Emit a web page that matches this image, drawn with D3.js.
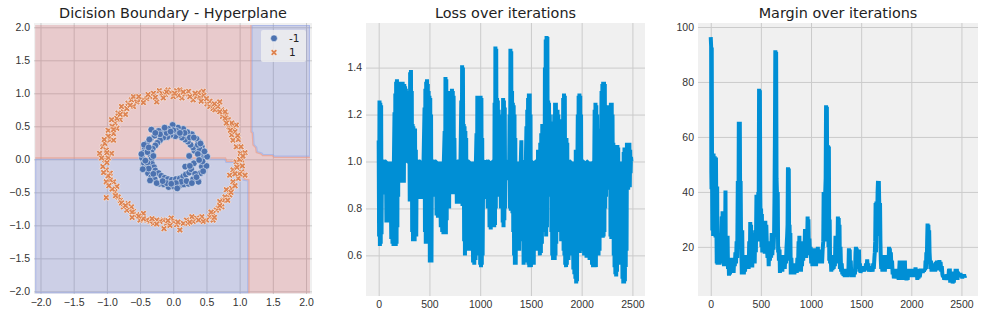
<!DOCTYPE html>
<html>
<head>
<meta charset="utf-8">
<script src="https://cdn.jsdelivr.net/npm/d3@7"></script>
<style>
    body { margin: 0; background: #fff; }
    svg { display: block; font-family: "DejaVu Sans", sans-serif; }
    .tick text { fill: #333; font-size: 10.5px; }
    .tick line { stroke: #cbcbcb; stroke-width: 1; }
    .title { font-size: 14.4px; fill: #222; text-anchor: middle; }
    .legend-label { font-size: 10.5px; fill: #222; }
</style>
</head>
<body>
<svg id="chart" width="982" height="316"></svg>
<script>
// ---- data ----
const titles = ['Dicision Boundary - Hyperplane', 'Loss over iterations', 'Margin over iterations'];
const legendLabels = ['-1', '1'];

const boundaryTicks = [-2.0, -1.5, -1.0, -0.5, 0.0, 0.5, 1.0, 1.5, 2.0];
const iterTicks = [0, 500, 1000, 1500, 2000, 2500];
const lossTicks = [0.6, 0.8, 1.0, 1.2, 1.4];
const marginTicks = [20, 40, 60, 80, 100];

// area covered by the predicted regions (data coords: x0, x1, y0, y1)
const contourExtent = [-2.08, 2.06, -2.03, 2.035];

// regions predicted as -1 (everything else in the extent is predicted 1)
const blueRegions = [
    [[-2.08, 0.01], [0.78, 0.01], [0.80, -0.04], [1.055, -0.04], [1.06, -0.31], [1.13, -0.32], [1.13, -2.03], [-2.08, -2.03]],
    [[1.18, 2.035], [2.06, 2.035], [2.06, 0.04], [1.52, 0.04], [1.5, 0.065], [1.35, 0.065], [1.33, 0.09], [1.26, 0.11],
     [1.25, 0.18], [1.21, 0.22], [1.2, 0.4], [1.18, 0.42]]
];

// class -1 points (inner ring)
const classNeg = [
    [0.46, 0.03], [0.44, 0.10], [0.43, 0.19], [0.38, 0.27], [0.35, 0.31], [0.28, 0.38], [0.21, 0.41], [0.15, 0.46],
    [0.07, 0.48], [-0.01, 0.52], [-0.07, 0.46], [-0.15, 0.44], [-0.22, 0.43], [-0.33, 0.45], [-0.34, 0.31], [-0.40, 0.24],
    [-0.43, 0.17], [-0.45, 0.10], [-0.47, 0.02], [-0.44, -0.06], [-0.41, -0.13], [-0.38, -0.21], [-0.33, -0.27], [-0.28, -0.30],
    [-0.21, -0.37], [-0.14, -0.38], [-0.07, -0.42], [0.01, -0.41], [0.09, -0.40], [0.16, -0.38], [0.23, -0.37], [0.30, -0.30],
    [0.38, -0.34], [0.41, -0.21], [0.43, -0.11], [0.50, -0.10], [0.51, 0.04], [0.44, -0.03],
    [0.24, 0.05], [0.32, 0.13], [0.30, 0.18], [0.26, 0.22], [0.22, 0.27], [0.18, 0.30], [0.13, 0.33], [0.09, 0.37],
    [0.03, 0.35], [-0.04, 0.37], [-0.09, 0.34], [-0.15, 0.33], [-0.20, 0.29], [-0.24, 0.25], [-0.27, 0.21], [-0.31, 0.16],
    [-0.33, 0.11], [-0.34, 0.06], [-0.33, 0.00], [-0.32, -0.07], [-0.29, -0.12], [-0.27, -0.17], [-0.22, -0.21], [-0.18, -0.25],
    [-0.13, -0.28], [-0.08, -0.30], [-0.02, -0.31], [0.04, -0.30], [0.10, -0.29], [0.15, -0.26], [0.19, -0.23], [0.24, -0.20],
    [0.27, -0.15], [0.18, -0.11], [0.31, -0.06], [0.25, -0.10],
    [0.40, 0.15], [0.37, 0.22], [0.05, 0.43], [-0.10, 0.40], [-0.28, 0.36], [-0.39, 0.11], [-0.39, -0.05], [-0.30, -0.22],
    [-0.10, -0.36], [0.12, -0.34], [0.33, -0.22], [0.37, 0.08], [-0.20, 0.38], [0.25, 0.33], [-0.37, -0.14], [0.04, -0.36],
    [0.47, 0.12], [0.41, 0.24], [0.31, 0.33], [0.17, 0.40], [0.00, 0.44], [-0.13, 0.48], [-0.27, 0.40], [-0.36, 0.30],
    [-0.44, 0.22], [-0.48, 0.08], [-0.42, -0.02], [-0.46, -0.15], [-0.35, -0.32], [-0.25, -0.36], [-0.03, -0.37], [0.06, -0.44],
    [0.20, -0.33], [0.28, -0.36], [0.35, -0.27], [0.45, -0.18], [0.39, -0.01], [-0.16, -0.33], [0.10, 0.40], [-0.04, 0.42],
    [-0.30, 0.05], [-0.37, 0.18]
];

// class 1 points (outer ring)
const classPos = [
    [-0.21, 1.04], [-0.17, 1.00], [-0.08, 1.05], [-0.04, 1.01], [0.00, 0.95], [0.05, 1.04], [0.10, 1.05], [0.13, 0.93],
    [0.18, 0.99], [0.23, 1.03], [0.29, 0.97], [0.30, 0.90], [0.35, 0.95], [0.40, 0.94], [0.45, 1.03], [0.46, 0.97],
    [0.51, 0.84], [0.55, 0.80], [0.60, 0.77], [0.63, 0.75], [0.70, 0.87], [0.73, 0.75], [0.74, 0.65], [0.80, 0.67],
    [0.83, 0.60], [0.84, 0.49], [0.90, 0.49], [0.88, 0.37], [0.95, 0.52], [0.90, 0.29], [0.95, 0.19], [1.02, 0.19],
    [1.01, 0.09], [1.08, 0.10], [1.03, -0.01], [0.95, -0.04], [0.99, -0.09], [0.90, -0.16], [1.03, -0.19], [1.08, -0.24],
    [0.98, -0.29], [0.85, -0.24], [0.90, -0.34], [0.88, -0.44], [0.80, -0.46], [0.85, -0.54], [0.78, -0.57], [0.75, -0.62],
    [0.70, -0.64], [0.73, -0.72], [0.65, -0.77], [0.60, -0.82], [0.55, -0.87], [0.60, -0.92], [0.50, -0.92], [0.43, -0.87],
    [0.35, -0.89], [0.30, -0.94], [0.28, -0.87], [0.20, -0.92], [0.15, -0.97], [0.10, -1.07], [0.05, -0.99], [0.00, -0.94],
    [-0.03, -0.89], [-0.10, -0.97], [-0.15, -0.92], [-0.14, -1.05], [-0.20, -0.94], [-0.25, -0.92], [-0.30, -0.97], [-0.35, -0.94],
    [-0.40, -0.92], [-0.45, -0.82], [-0.50, -0.92], [-0.55, -0.84], [-0.60, -0.79], [-0.63, -0.72], [-0.68, -0.67], [-0.70, -0.77],
    [-0.75, -0.72], [-0.80, -0.62], [-0.83, -0.57], [-0.88, -0.49], [-0.85, -0.41], [-0.90, -0.34], [-0.95, -0.31], [-1.01, -0.34],
    [-0.95, -0.21], [-1.01, -0.16], [-1.06, -0.11], [-1.03, -0.01], [-0.98, 0.02], [-1.11, 0.09], [-1.06, 0.19], [-1.01, 0.14],
    [-1.03, 0.24], [-0.96, 0.29], [-0.95, 0.34], [-0.90, 0.39], [-0.98, 0.44], [-0.85, 0.47], [-0.88, 0.55], [-0.80, 0.60],
    [-0.85, 0.62], [-0.83, 0.70], [-0.75, 0.72], [-0.78, 0.80], [-0.70, 0.77], [-0.68, 0.85], [-0.63, 0.90], [-0.60, 0.95],
    [-0.55, 0.87], [-0.50, 0.90], [-0.45, 0.90], [-0.40, 0.92], [-0.35, 0.95], [-0.30, 1.00], [-0.25, 0.87], [-0.90, 0.29],
    [-0.93, 0.09], [-1.01, -0.58],
    [-0.12, 0.98], [0.08, 0.97], [0.25, 0.95], [0.38, 1.01], [0.55, 0.88], [0.67, 0.80], [0.78, 0.72], [0.88, 0.55],
    [0.93, 0.42], [0.98, 0.30], [1.00, 0.00], [0.96, -0.12], [0.93, -0.40], [0.82, -0.62], [0.68, -0.74], [0.45, -0.94],
    [0.22, -0.97], [-0.05, -1.00], [-0.25, -0.98], [-0.45, -0.90], [-0.62, -0.80], [-0.78, -0.66], [-0.92, -0.45], [-0.98, -0.25],
    [-1.00, -0.05], [-1.00, 0.10], [-0.98, 0.35], [-0.92, 0.50], [-0.72, 0.68], [-0.60, 0.80], [-0.45, 0.86], [-0.15, 0.93],
    [-0.10, 1.02], [0.02, 1.00], [0.15, 1.02], [0.33, 1.00], [0.50, 0.92], [0.62, 0.84], [0.70, 0.72], [0.78, 0.62],
    [0.86, 0.44], [0.97, 0.36], [1.05, 0.05], [1.00, -0.22], [0.93, -0.22], [0.87, -0.50], [0.70, -0.70], [0.57, -0.80],
    [0.38, -0.92], [0.25, -0.95], [0.07, -0.95], [-0.08, -0.93], [-0.32, -0.90], [-0.52, -0.86], [-0.72, -0.70], [-0.87, -0.55],
    [-0.97, -0.40], [-1.05, -0.20], [-1.08, 0.02], [-1.04, 0.30], [-0.93, 0.60], [-0.80, 0.68], [-0.65, 0.82], [-0.52, 0.95],
    [-0.38, 0.98], [-0.27, 0.94], [0.42, 0.88], [0.80, 0.55], [1.04, -0.10], [0.62, -0.88], [-0.62, -0.88], [-0.90, 0.45]
];

// loss per iteration [iteration, loss]
const lossSeries = [
    [0, 1.09], [4, 0.68], [8, 1.26], [12, 0.64], [16, 1.25], [20, 0.65], [24, 1.24], [28, 0.69], [32, 1.0],
    [50, 1.0], [54, 0.86], [58, 1.0], [72, 1.0], [76, 0.74], [80, 1.0], [88, 0.75], [92, 1.0], [100, 0.86], [104, 1.0],
    [112, 0.74], [116, 1.0], [124, 0.67], [128, 1.0], [136, 0.65], [140, 1.0], [146, 0.64], [150, 1.0],
    [156, 1.21], [160, 0.66], [164, 1.29], [168, 0.64], [172, 1.34], [176, 0.65], [180, 1.35], [184, 0.72], [188, 1.34],
    [192, 0.85], [196, 1.33], [200, 1.0], [204, 1.34], [208, 1.0], [212, 1.34], [216, 1.0], [220, 1.33],
    [224, 0.92], [228, 1.34], [232, 0.91], [236, 1.34], [240, 0.92], [244, 1.30], [248, 0.91], [252, 1.33], [256, 1.0],
    [260, 1.32], [264, 1.0], [268, 1.31], [272, 1.0], [276, 1.3], [280, 1.0], [296, 1.0],
    [302, 1.25], [306, 0.83], [310, 1.38], [314, 0.84], [318, 1.39], [322, 0.86], [326, 1.30],
    [330, 0.70], [334, 1.16], [338, 0.66], [342, 1.15], [346, 0.67], [350, 1.12], [354, 0.66], [358, 1.14], [362, 0.70],
    [366, 1.05], [370, 0.68], [374, 1.0],
    [390, 1.0], [394, 0.84], [398, 1.0], [410, 1.0], [414, 0.84], [418, 1.0], [426, 0.85], [430, 1.0], [438, 0.84], [442, 1.0],
    [452, 1.23], [456, 0.70], [460, 1.31], [464, 0.65], [468, 1.34], [472, 0.66], [476, 1.35], [480, 0.68], [484, 1.33],
    [488, 0.66], [492, 1.30], [496, 0.72],
    [500, 1.28], [504, 0.57], [508, 1.27], [512, 0.58], [516, 1.2], [520, 0.57], [524, 1.0],
    [540, 1.0], [548, 1.0], [552, 0.85], [556, 1.0], [566, 1.0], [570, 0.77], [574, 1.0], [584, 0.76], [588, 1.0],
    [598, 0.76], [602, 1.0], [612, 0.72], [616, 1.0], [626, 0.70], [630, 1.0], [638, 0.69], [642, 1.0],
    [650, 1.13], [654, 0.70], [658, 1.36], [662, 0.69], [666, 1.35], [670, 0.75],
    [674, 1.29], [678, 0.80], [682, 1.28], [686, 0.82], [690, 1.25], [694, 0.80],
    [698, 1.30], [702, 0.90], [706, 1.29], [710, 1.0], [714, 1.29], [718, 1.0], [722, 1.31], [726, 0.88], [730, 1.30],
    [734, 0.86], [738, 1.28], [742, 0.87], [746, 1.10], [750, 0.90], [754, 1.0],
    [766, 1.0], [770, 0.82], [774, 1.0], [786, 1.0], [790, 0.83], [794, 1.0], [802, 0.82], [806, 1.0],
    [814, 1.26], [818, 0.82], [822, 1.41], [826, 0.81], [830, 1.40], [834, 0.85],
    [838, 1.16], [842, 0.66], [846, 1.15], [850, 0.60], [854, 1.13], [858, 0.62], [862, 1.1], [866, 0.65], [870, 1.0],
    [874, 0.70], [878, 1.0],
    [890, 1.0], [894, 0.62], [898, 1.0], [906, 0.70], [910, 1.0], [918, 0.64], [922, 1.0], [930, 0.57], [934, 1.0],
    [942, 0.56], [946, 1.0], [954, 0.58], [958, 1.0],
    [964, 1.12], [968, 0.62], [972, 1.28], [976, 0.60], [980, 1.27], [984, 0.65], [988, 1.28], [992, 0.72],
    [996, 1.27], [1000, 0.56], [1004, 1.28], [1008, 0.55], [1012, 1.27], [1016, 0.56], [1020, 1.1], [1024, 0.6],
    [1030, 1.0], [1040, 1.0], [1044, 0.85], [1048, 1.0], [1056, 0.84], [1060, 1.0],
    [1070, 1.0], [1074, 0.80], [1078, 1.0], [1088, 1.0], [1092, 0.72], [1096, 1.0], [1104, 0.71], [1108, 1.0], [1116, 0.72],
    [1120, 1.0],
    [1134, 1.0], [1138, 0.72], [1142, 1.25], [1146, 0.73], [1150, 1.49], [1154, 0.80], [1158, 1.48], [1162, 0.85],
    [1166, 1.27], [1170, 0.86], [1174, 1.26], [1178, 0.88], [1182, 1.22], [1186, 0.85], [1190, 1.0],
    [1200, 1.0], [1204, 0.80], [1208, 1.0], [1214, 1.0],
    [1218, 1.20], [1222, 0.74], [1226, 1.27], [1230, 0.72], [1234, 1.26], [1238, 0.75], [1242, 1.23], [1246, 0.8], [1250, 1.0],
    [1262, 1.0], [1266, 0.92], [1270, 1.0], [1286, 1.0],
    [1290, 1.2], [1294, 0.80], [1298, 1.48], [1302, 0.79], [1306, 1.47], [1310, 0.82], [1314, 1.3],
    [1318, 0.78], [1322, 1.25], [1326, 0.70], [1330, 1.24], [1334, 0.60], [1338, 1.2], [1342, 0.56], [1346, 1.1],
    [1350, 0.56], [1354, 1.0],
    [1360, 0.62], [1364, 1.0], [1372, 0.64], [1376, 1.0], [1384, 0.62], [1388, 1.0], [1396, 0.66], [1400, 1.0],
    [1406, 1.09], [1410, 0.7], [1414, 1.0],
    [1424, 1.0], [1428, 0.56], [1432, 1.0], [1440, 0.57], [1444, 1.0], [1450, 1.0],
    [1456, 1.15], [1460, 0.70], [1464, 1.22], [1468, 0.62], [1472, 1.27], [1476, 0.56], [1480, 1.29], [1484, 0.55],
    [1488, 1.29], [1492, 0.56], [1496, 1.2], [1500, 0.55], [1504, 1.0],
    [1512, 1.0], [1516, 0.57], [1520, 1.0], [1528, 0.56], [1532, 1.0], [1540, 0.62], [1544, 1.0], [1550, 1.0],
    [1556, 0.75], [1560, 1.0], [1566, 0.72], [1570, 1.05], [1576, 0.62], [1580, 1.0], [1588, 0.60], [1592, 1.08],
    [1598, 0.61], [1602, 1.12], [1608, 0.65], [1612, 1.16], [1618, 0.70], [1622, 1.0],
    [1630, 1.0], [1634, 0.75], [1638, 1.40], [1642, 0.70], [1646, 1.52], [1650, 0.68], [1654, 1.535], [1658, 0.72],
    [1662, 1.53], [1666, 0.85],
    [1670, 1.26], [1674, 0.88], [1678, 1.25], [1682, 0.9], [1686, 1.2], [1690, 0.88], [1694, 1.0], [1698, 1.17],
    [1702, 0.70], [1706, 1.17], [1710, 0.60], [1714, 1.15], [1718, 0.58], [1722, 1.1], [1726, 0.58], [1730, 1.2],
    [1734, 0.58], [1738, 1.25], [1742, 0.60], [1746, 1.25], [1750, 0.65], [1754, 1.2], [1758, 0.70], [1762, 1.22],
    [1766, 0.75], [1770, 1.2], [1774, 0.78], [1778, 1.18], [1782, 0.80],
    [1786, 1.17], [1790, 0.70], [1794, 1.18], [1798, 0.66], [1802, 1.12], [1806, 0.68], [1810, 1.1], [1814, 0.72],
    [1818, 1.27], [1822, 0.62], [1826, 1.29], [1830, 0.60], [1834, 1.28], [1838, 0.56], [1842, 1.1],
    [1846, 0.55], [1850, 1.1], [1854, 0.56], [1858, 1.08], [1862, 0.6], [1866, 1.0], [1870, 0.58], [1874, 1.0], [1878, 0.62],
    [1884, 1.0], [1890, 1.0], [1894, 0.62], [1898, 1.0], [1906, 0.60], [1910, 1.0], [1918, 0.54], [1922, 1.0],
    [1928, 0.52], [1932, 1.0],
    [1938, 0.50], [1942, 1.05], [1946, 0.48], [1950, 1.04], [1954, 0.49], [1958, 1.0],
    [1962, 1.2], [1966, 0.62], [1970, 1.28], [1974, 0.61], [1978, 1.29], [1982, 0.61], [1986, 1.28], [1990, 0.62],
    [1994, 1.2], [1998, 0.65], [2002, 1.0], [2006, 0.62], [2010, 1.0],
    [2020, 1.0], [2024, 0.60], [2028, 1.0], [2036, 0.61], [2040, 1.0], [2048, 0.59], [2052, 1.0], [2058, 1.0],
    [2066, 0.60], [2070, 1.0], [2078, 0.58], [2082, 1.0], [2090, 0.58], [2094, 1.0], [2102, 0.56], [2106, 1.0],
    [2112, 0.55], [2116, 1.0],
    [2124, 1.0], [2128, 1.22], [2132, 0.56], [2136, 1.25], [2140, 0.55], [2144, 1.24], [2148, 0.6], [2152, 1.2],
    [2156, 0.62], [2160, 1.0], [2166, 0.60], [2170, 1.14], [2176, 0.62], [2180, 1.12], [2186, 0.7], [2190, 1.0],
    [2196, 1.30], [2200, 0.68], [2204, 1.33], [2208, 0.675], [2212, 1.34], [2216, 0.68], [2220, 1.34], [2224, 0.70],
    [2228, 1.33], [2232, 0.80], [2236, 1.24], [2240, 0.85],
    [2244, 1.24], [2248, 0.90], [2252, 1.24], [2256, 0.95], [2260, 1.2], [2264, 0.9], [2268, 1.22], [2272, 0.88], [2276, 1.0],
    [2280, 1.22], [2284, 0.68], [2288, 1.25], [2292, 0.67], [2296, 1.25], [2300, 0.70], [2304, 1.2], [2308, 0.75], [2312, 1.08],
    [2316, 0.60], [2320, 1.07], [2324, 0.55], [2328, 1.06], [2332, 0.52], [2336, 1.05], [2340, 0.51], [2344, 1.0], [2348, 0.53],
    [2352, 1.07], [2356, 0.56], [2360, 1.06], [2364, 0.58], [2368, 1.0], [2372, 0.6], [2376, 1.0], [2380, 0.62],
    [2386, 1.0], [2392, 0.56], [2396, 1.0], [2402, 0.50], [2406, 1.0],
    [2410, 0.48], [2414, 1.04], [2418, 0.48], [2422, 1.06], [2426, 0.49], [2430, 1.05], [2434, 0.55], [2438, 1.06],
    [2442, 0.62], [2446, 1.08],
    [2450, 0.88], [2454, 1.08], [2458, 0.88], [2462, 1.07], [2466, 0.90], [2470, 1.08], [2474, 0.89], [2478, 1.05],
    [2482, 0.95], [2486, 1.02], [2490, 1.0], [2499, 1.0]
];

// margin per iteration [iteration, margin]
const marginSeries = [
    [0, 96.3], [4, 93], [6, 47], [8, 41], [10, 92.5], [13, 47], [16, 26], [20, 41], [24, 24], [28, 54], [32, 30], [36, 24],
    [40, 53], [44, 26], [48, 23.5], [52, 52.5], [56, 30], [60, 14], [64, 42], [68, 13.5], [72, 22], [76, 14], [82, 25],
    [88, 13.5], [94, 20], [100, 14], [106, 24], [110, 31], [114, 14], [118, 33], [122, 15], [128, 32], [132, 13], [136, 22],
    [140, 13.5], [144, 26], [147, 40.5], [150, 14], [154, 22], [158, 13], [164, 16], [168, 24], [172, 12], [178, 16],
    [182, 9.5], [188, 15], [192, 10], [198, 16], [204, 10.5], [210, 15.5], [216, 11], [222, 16], [228, 10.5], [234, 16],
    [240, 13], [246, 18], [252, 14], [258, 22], [264, 16], [270, 44], [276, 24], [280, 65.5], [286, 60], [290, 65.5],
    [294, 30], [298, 44], [302, 25], [306, 17], [310, 10], [314, 26], [318, 10.5], [324, 14], [330, 10], [336, 14],
    [342, 11], [348, 17], [354, 12], [360, 16], [366, 13], [372, 17], [378, 12], [384, 22], [390, 15], [394, 29],
    [398, 16], [402, 28], [406, 13], [410, 25], [414, 12.5], [420, 24], [426, 15], [432, 20], [438, 14], [444, 26],
    [450, 18], [456, 39], [460, 25], [464, 33], [470, 22], [474, 40], [478, 30], [482, 77.5], [486, 60], [490, 77],
    [494, 40], [498, 25], [502, 34], [506, 20], [510, 32], [514, 18], [520, 27], [526, 20], [532, 22], [538, 17.5],
    [544, 29.5], [548, 18], [554, 28], [560, 20], [566, 16], [572, 22], [578, 13], [584, 20], [590, 15], [596, 19],
    [602, 16], [608, 25], [614, 17], [620, 22], [626, 19], [632, 25], [636, 39], [640, 60], [644, 91.5], [648, 55],
    [652, 91], [656, 45], [660, 40], [664, 24], [668, 40], [672, 18], [676, 20], [680, 15], [686, 19], [690, 10.5],
    [696, 16], [700, 11], [708, 17], [714, 11], [720, 16], [726, 13], [732, 15], [738, 12], [744, 17], [750, 14],
    [756, 20], [762, 24], [766, 28], [770, 49], [774, 25], [778, 48.5], [782, 20], [786, 28], [790, 15], [794, 25],
    [798, 10], [804, 16], [810, 10.5], [816, 14], [822, 11], [828, 14], [834, 10], [840, 13], [846, 11.5], [852, 14],
    [858, 10.5], [864, 16], [870, 12], [876, 22], [880, 16], [884, 24], [888, 11], [894, 21], [900, 11], [906, 22],
    [910, 13], [916, 20], [922, 15], [928, 22], [934, 17], [940, 26.5], [944, 18], [948, 26], [952, 16], [958, 20],
    [962, 23], [966, 31], [970, 18], [974, 30], [978, 20], [984, 23], [990, 17], [996, 20], [1002, 14], [1008, 19],
    [1014, 13], [1020, 17.5], [1026, 14], [1032, 19.5], [1038, 14], [1044, 17], [1050, 13], [1056, 19], [1062, 15],
    [1068, 20], [1074, 14], [1080, 18], [1086, 14], [1092, 19], [1098, 15],
    [1104, 18], [1110, 14], [1116, 19], [1122, 22], [1126, 40], [1130, 24], [1134, 38], [1138, 22], [1142, 40],
    [1146, 45], [1150, 71.5], [1154, 60], [1158, 71], [1162, 40], [1166, 35], [1170, 57], [1174, 20], [1178, 56.5],
    [1182, 15], [1186, 30], [1190, 14], [1196, 17], [1202, 11], [1208, 16], [1214, 11.5], [1220, 17], [1226, 12],
    [1232, 15], [1238, 13], [1244, 24], [1248, 14], [1252, 22], [1256, 16], [1260, 24], [1264, 20], [1268, 31],
    [1272, 21], [1276, 30.5], [1280, 20], [1284, 28], [1288, 12], [1294, 20], [1300, 11], [1306, 14], [1312, 10],
    [1318, 12], [1324, 9.5], [1330, 12], [1336, 9], [1342, 11], [1348, 9.5], [1354, 12], [1360, 9], [1366, 11],
    [1372, 10], [1378, 19.5], [1382, 11], [1386, 19], [1390, 10], [1396, 15], [1402, 9], [1408, 12], [1414, 9],
    [1420, 11], [1426, 9], [1432, 12], [1438, 10], [1444, 18], [1448, 20], [1452, 12], [1456, 19.5], [1460, 13],
    [1466, 18], [1472, 12], [1478, 19], [1482, 11], [1488, 14], [1494, 10.5], [1500, 13], [1506, 11], [1512, 13],
    [1518, 11], [1524, 12], [1530, 11], [1536, 13], [1542, 11.5], [1548, 14], [1554, 12], [1560, 15.5], [1566, 12],
    [1572, 14], [1578, 11], [1584, 12], [1590, 11], [1596, 13], [1602, 11], [1608, 12], [1614, 11], [1620, 14],
    [1626, 12], [1632, 16], [1636, 18], [1640, 22], [1644, 36], [1648, 18], [1652, 36.5], [1656, 25], [1660, 30],
    [1664, 40], [1668, 44], [1672, 30], [1676, 44], [1680, 36], [1684, 24], [1688, 36], [1692, 22], [1696, 15],
    [1700, 12], [1706, 14], [1712, 11], [1718, 16], [1724, 12], [1730, 17], [1736, 11], [1742, 15], [1748, 13],
    [1754, 17], [1760, 14], [1766, 16], [1772, 12], [1778, 20], [1782, 13], [1786, 19.5], [1790, 14], [1796, 18],
    [1802, 12], [1808, 15], [1814, 10], [1820, 12], [1826, 8.5], [1832, 11], [1838, 9], [1844, 12], [1850, 8.5],
    [1856, 11], [1862, 9], [1868, 10], [1874, 8], [1880, 12], [1884, 15], [1888, 9], [1892, 15], [1896, 10],
    [1902, 14], [1908, 8], [1914, 11], [1920, 8], [1926, 15], [1930, 10], [1936, 15], [1940, 9], [1946, 12],
    [1952, 7.8], [1958, 10], [1964, 8], [1970, 12], [1976, 9], [1982, 12], [1988, 9.5], [1994, 11], [2000, 9],
    [2006, 12], [2012, 9], [2018, 11], [2024, 9], [2030, 12], [2036, 10], [2042, 12.5], [2048, 9], [2054, 11],
    [2060, 8], [2066, 12], [2072, 8.5], [2078, 11], [2084, 9], [2090, 10.5], [2096, 12], [2102, 11], [2108, 12],
    [2114, 10.5], [2120, 12], [2126, 11], [2132, 12], [2138, 11.5], [2142, 15], [2146, 12], [2150, 18], [2154, 14],
    [2158, 22], [2162, 28.5], [2166, 22], [2170, 28], [2174, 22], [2178, 26], [2182, 18], [2186, 15], [2190, 12],
    [2196, 15], [2202, 11], [2208, 14], [2214, 11], [2220, 13], [2226, 12], [2232, 14], [2238, 11], [2244, 14.5],
    [2250, 12], [2256, 15], [2262, 11.5], [2268, 14], [2274, 12], [2280, 15.2], [2286, 12], [2292, 14.5], [2298, 11],
    [2304, 13], [2310, 10], [2316, 9], [2322, 10], [2328, 8], [2334, 9.5], [2340, 8], [2346, 9], [2352, 8.5],
    [2358, 10], [2364, 8], [2370, 9], [2376, 12], [2380, 8], [2384, 12.1], [2388, 7], [2394, 10], [2400, 7.5],
    [2406, 11], [2412, 6.7], [2418, 9], [2424, 7], [2430, 11], [2436, 8], [2442, 12], [2448, 9], [2454, 12],
    [2460, 8], [2466, 11], [2472, 9], [2478, 10], [2484, 9], [2490, 10.5], [2496, 9], [2502, 10], [2508, 8.5],
    [2514, 10], [2520, 9], [2526, 10], [2532, 9], [2538, 9.5]
];

// ---- layout ----
const svg = d3.select('#chart');
const lineColor = '#008fd5';

const panels = [
    {left: 34, right: 312, top: 23, bottom: 294, xDomain: [-2.098, 2.09], yDomain: [-2.04, 2.065]},
    {left: 366, right: 645, top: 23, bottom: 296, xDomain: [-125, 2624], yDomain: [0.427, 1.59]},
    {left: 698, right: 978, top: 23, bottom: 296, xDomain: [-127, 2665], yDomain: [2.13, 101.45]}
];

function setupPanel(p, title, xTicks, yTicks, xFmt, yFmt) {
    p.x = d3.scaleLinear().domain(p.xDomain).range([p.left, p.right]);
    p.y = d3.scaleLinear().domain(p.yDomain).range([p.bottom, p.top]);
    p.g = svg.append('g');

    p.g.append('rect')
        .attr('x', p.left).attr('y', p.top)
        .attr('width', p.right - p.left).attr('height', p.bottom - p.top)
        .attr('fill', '#f0f0f0');

    // gridlines + tick labels
    p.g.append('g')
        .attr('transform', `translate(0,${p.bottom})`)
        .call(d3.axisBottom(p.x).tickValues(xTicks).tickFormat(xFmt)
            .tickSize(-(p.bottom - p.top)).tickPadding(4.5))
        .call(g => g.select('.domain').remove());

    p.g.append('g')
        .attr('transform', `translate(${p.left},0)`)
        .call(d3.axisLeft(p.y).tickValues(yTicks).tickFormat(yFmt)
            .tickSize(-(p.right - p.left)).tickPadding(4))
        .call(g => g.select('.domain').remove());

    svg.append('text')
        .attr('class', 'title')
        .attr('x', (p.left + p.right) / 2)
        .attr('y', 18)
        .text(title);
}

const [p1, p2, p3] = panels;
setupPanel(p1, titles[0], boundaryTicks, boundaryTicks, d3.format('.1f'), d3.format('.1f'));
setupPanel(p2, titles[1], iterTicks, lossTicks, d3.format('d'), d3.format('.1f'));
setupPanel(p3, titles[2], iterTicks, marginTicks, d3.format('d'), d3.format('d'));

// ---- decision regions ----
const [ex0, ex1, ey0, ey1] = contourExtent;
const polyPath = pts => 'M' + pts.map(d => `${p1.x(d[0])},${p1.y(d[1])}`).join('L') + 'Z';
const extentPath = polyPath([[ex0, ey0], [ex1, ey0], [ex1, ey1], [ex0, ey1]]);
const bluePath = blueRegions.map(polyPath).join('');

const defs = svg.append('defs');
defs.append('clipPath').attr('id', 'clip-red')
    .append('path').attr('d', extentPath + bluePath).attr('clip-rule', 'evenodd');
defs.append('clipPath').attr('id', 'clip-blue')
    .append('path').attr('d', bluePath);

const regions = p1.g.append('g');
regions.append('path')
    .attr('d', extentPath + bluePath)
    .attr('fill-rule', 'evenodd')
    .attr('fill', '#c8323a')
    .attr('fill-opacity', 0.2);
regions.append('path')
    .attr('d', bluePath)
    .attr('fill', '#3b4cc0')
    .attr('fill-opacity', 0.2);
// contour edge lines on both sides of the boundary
regions.append('path')
    .attr('d', bluePath)
    .attr('fill', 'none')
    .attr('stroke', '#e8937f')
    .attr('stroke-opacity', 0.55)
    .attr('stroke-width', 2.6)
    .attr('clip-path', 'url(#clip-red)');
regions.append('path')
    .attr('d', bluePath)
    .attr('fill', 'none')
    .attr('stroke', '#8a9de6')
    .attr('stroke-opacity', 0.45)
    .attr('stroke-width', 2.2)
    .attr('clip-path', 'url(#clip-blue)');

// ---- scatter ----
const negColor = '#4c72b0';
const posColor = '#dd8452';
const xMark = d3.symbol(d3.symbolCross, 27);

p1.g.append('g').selectAll('circle')
    .data(classNeg)
    .join('circle')
    .attr('cx', d => p1.x(d[0]))
    .attr('cy', d => p1.y(d[1]))
    .attr('r', 3.4)
    .attr('fill', negColor)
    .attr('stroke', '#fff')
    .attr('stroke-width', 0.5);

p1.g.append('g').selectAll('path')
    .data(classPos)
    .join('path')
    .attr('d', xMark)
    .attr('transform', d => `translate(${p1.x(d[0])},${p1.y(d[1])}) rotate(45)`)
    .attr('fill', posColor)
    .attr('stroke', '#fff')
    .attr('stroke-width', 0.5);

// ---- legend ----
const legend = p1.g.append('g');
legend.append('rect')
    .attr('x', 261).attr('y', 30)
    .attr('width', 45).attr('height', 32)
    .attr('rx', 2)
    .attr('fill', '#f0f0f0')
    .attr('fill-opacity', 0.8);
legend.append('circle')
    .attr('cx', 274).attr('cy', 38.3).attr('r', 3.4)
    .attr('fill', negColor).attr('stroke', '#fff').attr('stroke-width', 0.5);
legend.append('path')
    .attr('d', xMark)
    .attr('transform', 'translate(274,52.5) rotate(45)')
    .attr('fill', posColor).attr('stroke', '#fff').attr('stroke-width', 0.5);
legend.selectAll('text')
    .data(legendLabels)
    .join('text')
    .attr('class', 'legend-label')
    .attr('x', 289)
    .attr('y', (d, i) => 42 + i * 14.3)
    .text(d => d);

// ---- lines ----
function drawLine(p, series) {
    p.g.append('path')
        .datum(series)
        .attr('d', d3.line().x(d => p.x(d[0])).y(d => p.y(d[1])))
        .attr('fill', 'none')
        .attr('stroke', lineColor)
        .attr('stroke-width', 4)
        .attr('stroke-linejoin', 'bevel');
}
drawLine(p2, lossSeries);
drawLine(p3, marginSeries);
</script>
</body>
</html>
